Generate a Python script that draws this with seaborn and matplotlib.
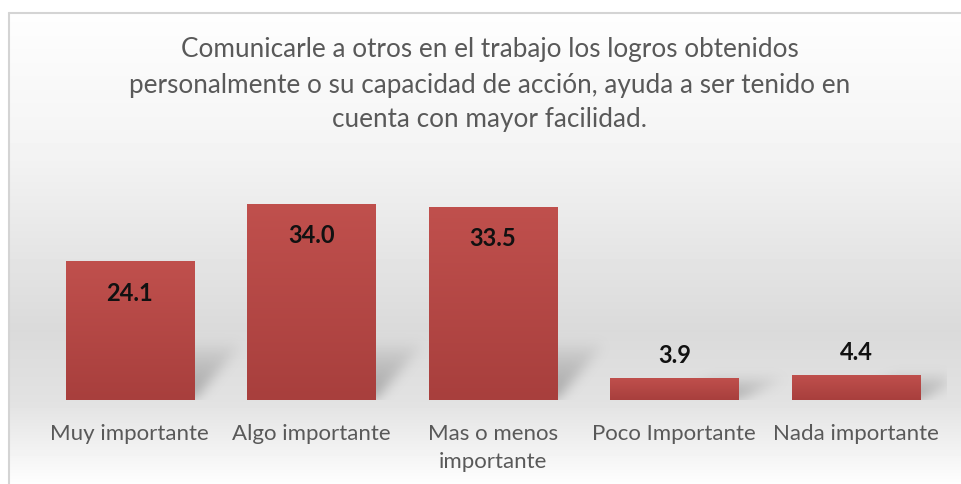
import numpy as np
import pandas as pd
import matplotlib
matplotlib.use("Agg")
import matplotlib.pyplot as plt
import seaborn as sns
from matplotlib.colors import LinearSegmentedColormap
from matplotlib.path import Path

categories = ["Muy importante", "Algo importante", "Mas o menos\nimportante",
              "Poco Importante", "Nada importante"]
values = [24.1, 34.0, 33.5, 3.9, 4.4]
value_labels = ["24.1", "34.0", "33.5", "3.9", "4.4"]
title = ("Comunicarle a otros en el trabajo los logros obtenidos\n"
         "personalmente o su capacidad de acción, ayuda a ser tenido en\n"
         "cuenta con mayor facilidad.")

sns.set_theme(style="white")
plt.rcParams["font.family"] = ["Lato", "DejaVu Sans"]

W, H = 962, 484
fig = plt.figure(figsize=(W / 100, H / 100), dpi=100)

# background gradient + border
bg = fig.add_axes([0, 0, 1, 1], zorder=0)
ys = [0, 12, 150, 330, 400, 484]
gv = [1.0, 0.995, 0.955, 0.855, 0.885, 0.995]
rows = np.interp(np.arange(12, H), ys, gv)
img = np.repeat(rows[:, None], 2, axis=1)
bg.imshow(img, extent=(9, W, H, 12), cmap="gray", vmin=0, vmax=1, aspect="auto")
bg.plot([9.5, 9.5], [H, 12.5], color="#d4d4d4", lw=1.5)
bg.plot([9.5, W], [12.5, 12.5], color="#d4d4d4", lw=1.5)
bg.set_xlim(0, W)
bg.set_ylim(H, 0)
bg.axis("off")

# main axes
left = 38.75 / W
width = 908 / W
bottom = 1 - 400 / H
height = 219 / H
ax = fig.add_axes([left, bottom, width, height], zorder=1)
ax.patch.set_alpha(0)

df = pd.DataFrame({"cat": categories, "val": values})
sns.barplot(data=df, x="cat", y="val", ax=ax, width=0.705, color="#b5474a",
            saturation=1, zorder=3)
XMIN, XMAX, YMAX = -0.5, len(categories) - 0.5, 38
ax.set_ylim(0, YMAX)
ax.set_xlim(XMIN, XMAX)

# blurred perspective shadows (computed on a pixel grid of the axes)
nx, ny = 908, 219
gx = np.linspace(XMIN, XMAX, nx)
gy = np.linspace(0, YMAX, ny)
GX, GY = np.meshgrid(gx, gy)
pts = np.column_stack([GX.ravel(), GY.ravel()])
shadow = np.zeros(GX.shape)
for p in ax.patches:
    x0, w, h = p.get_x(), p.get_width(), p.get_height()
    dy = min(h, 10.0)
    dx = 0.27
    poly = Path([(x0 + w * 0.45, 0), (x0 + w, 0), (x0 + w + dx, dy),
                 (x0 + w * 0.45 + dx, dy), (x0 + w * 0.45, 0)])
    m = poly.contains_points(pts).reshape(GX.shape).astype(float)
    fade = np.clip(1 - GY / dy, 0, 1) ** 0.7
    shadow = np.maximum(shadow, m * fade)


def blur(a, sigma):
    r = int(3 * sigma)
    k = np.exp(-0.5 * (np.arange(-r, r + 1) / sigma) ** 2)
    k /= k.sum()
    a = np.apply_along_axis(lambda v: np.convolve(v, k, mode="same"), 1, a)
    a = np.apply_along_axis(lambda v: np.convolve(v, k, mode="same"), 0, a)
    return a


shadow = blur(shadow, 6)
rgba = np.zeros(shadow.shape + (4,))
rgba[..., :3] = 0.4
rgba[..., 3] = np.clip(shadow * 0.5, 0, 1)
ax.imshow(rgba, extent=(XMIN, XMAX, 0, YMAX), origin="lower", aspect="auto",
          zorder=2, interpolation="bilinear")

cmap = LinearSegmentedColormap.from_list("bar", ["#a83f3d", "#c0504d"])
grad = np.linspace(0, 1, 256)[:, None]
for p in ax.patches:
    x0, w, h = p.get_x(), p.get_width(), p.get_height()
    p.set_edgecolor("none")
    im = ax.imshow(grad, extent=(x0, x0 + w, 0, h), origin="lower", cmap=cmap,
                   aspect="auto", zorder=3.5)
    im.set_clip_path(p)

for i, (v, lab) in enumerate(zip(values, value_labels)):
    off = -23 if v > 10 else 16
    ax.annotate(lab, (i, v), xytext=(0, off), textcoords="offset points",
                ha="center", va="center", fontsize=17, fontweight="bold",
                color="#111111", zorder=5)
ax.set_xlim(XMIN, XMAX)
ax.set_ylim(0, YMAX)

ax.set_xlabel("")
ax.set_ylabel("")
ax.set_yticks([])
ax.tick_params(axis="x", length=0, pad=17, labelsize=16, labelcolor="#595959")
for t in ax.get_xticklabels():
    t.set_linespacing(1.5)
for sp in ax.spines.values():
    sp.set_visible(False)

fig.text(490 / W, 1 - 85 / H, title, ha="center", va="center", fontsize=18.8,
         color="#595959", linespacing=1.5)

fig.savefig("out.png", dpi=100)
